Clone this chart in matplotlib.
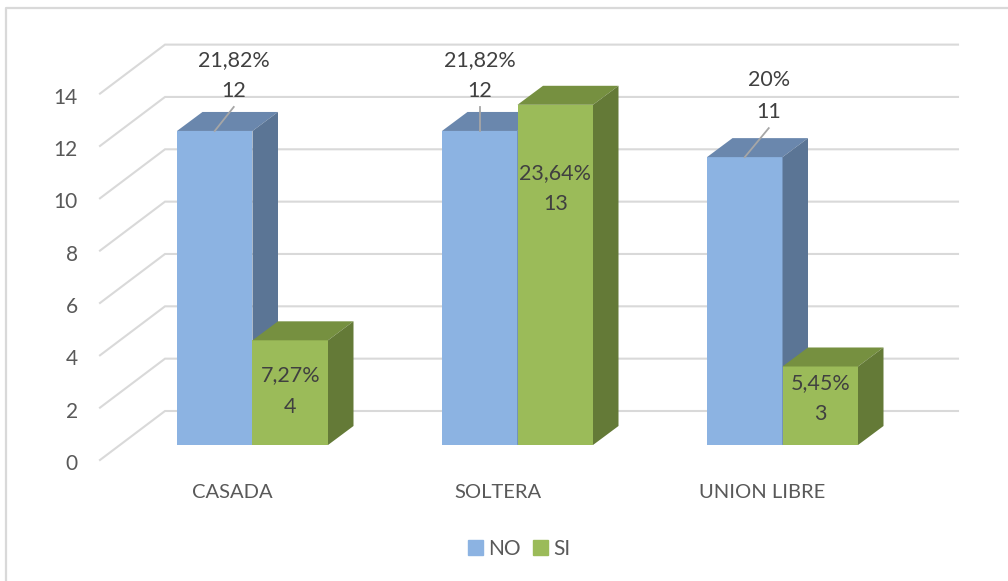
import matplotlib.pyplot as plt
from matplotlib.lines import Line2D
from matplotlib.patches import Patch, Polygon
from matplotlib.transforms import Affine2D

plt.rcParams['font.family'] = ['Lato', 'DejaVu Sans']

categories = ['CASADA', 'SOLTERA', 'UNION LIBRE']
no_values = [12, 12, 11]
si_values = [4, 13, 3]
no_labels = ['21,82%', '21,82%', '20%']
si_labels = ['7,27%', '23,64%', '5,45%']
y_ticks = [0, 2, 4, 6, 8, 10, 12, 14]

W, H = 1008, 581
# pixels per data unit in the reference
PX_X = 265.0
PX_Y = 26.17
BAR_W = 75.5 / PX_X
DEPTH_X = 25.5 / PX_X
DEPTH_Y = 19 / PX_Y

fig = plt.figure(figsize=(W / 100, H / 100), dpi=100)
left, right = 100, 958
bottom, top = 445, 445 - 14 * PX_Y
ax = fig.add_axes([left / W, 1 - bottom / H, (right - left) / W, (bottom - top) / H])
ax.set_xlim((left - 252.5) / PX_X, (right - 252.5) / PX_X)
ax.set_ylim(0, 14)
for s in ax.spines.values():
    s.set_visible(False)
ax.patch.set_alpha(0)

# outer chart frame, only left and top are inside the picture
fig.add_artist(Line2D([5.5 / W, 5.5 / W, 1.0], [0, 1 - 8 / H, 1 - 8 / H],
                      transform=fig.transFigure, color='#D9D9D9', lw=1.6))

# floor diagonals and back wall grid
x_front = ax.get_xlim()[0]
x_wall = x_front + 65 / PX_X
x_end = ax.get_xlim()[1]
for v in y_ticks:
    ys = [v - 15 / PX_Y, v + 34 / PX_Y, v + 34 / PX_Y]
    ax.plot([x_front, x_wall, x_end], ys, color='#D9D9D9', lw=1.5, clip_on=False, zorder=1,
            solid_joinstyle='miter')


def box(x0, value, front, top_c, side_c):
    ax.bar(x0, value, BAR_W, align='edge', color=front, zorder=3, clip_on=False)
    x1 = x0 + BAR_W
    ax.add_patch(Polygon([(x0, value), (x1, value), (x1 + DEPTH_X, value + DEPTH_Y), (x0 + DEPTH_X, value + DEPTH_Y)],
                         facecolor=top_c, edgecolor='none', zorder=3, clip_on=False))
    ax.add_patch(Polygon([(x1, 0), (x1 + DEPTH_X, DEPTH_Y), (x1 + DEPTH_X, value + DEPTH_Y), (x1, value)],
                         facecolor=side_c, edgecolor='none', zorder=3, clip_on=False))


for i in range(len(categories)):
    box(i - BAR_W, no_values[i], '#8CB3E2', '#6A87AD', '#5B7595')
for i in range(len(categories)):
    box(i, si_values[i], '#9BBB59', '#769040', '#647A37')

# data labels
no_dx = [19, 0, 24]
no_dy = [55.5, 55.5, 61]
no_line = [24, 24, 29]
si_y = [2.05, 9.8, 1.77]
for i in range(len(categories)):
    cx = i - BAR_W / 2
    ax.plot([cx, cx + no_dx[i] / PX_X], [no_values[i], no_values[i] + no_line[i] / PX_Y],
            color='#A6A6A6', lw=1.3, zorder=4, clip_on=False)
    ax.text(cx + no_dx[i] / PX_X, no_values[i] + no_dy[i] / PX_Y, f'{no_labels[i]}\n{no_values[i]}',
            ha='center', va='center', fontsize=15.5, color='#404040', linespacing=1.72, zorder=5)
    ax.text(i + BAR_W / 2, si_y[i], f'{si_labels[i]}\n{si_values[i]}',
            ha='center', va='center', fontsize=15.5, color='#404040', linespacing=1.72, zorder=5)

# axes
ax.set_yticks(y_ticks)
ax.set_xticks(range(len(categories)), categories)
ax.tick_params(length=0)
ax.tick_params(axis='y', labelsize=15, labelcolor='#595959', pad=16)
ax.tick_params(axis='x', labelsize=14.5, labelcolor='#595959', pad=28)
fig.canvas.draw()
for lab in ax.get_xticklabels():
    lab.set_transform(lab.get_transform() + Affine2D().translate(-20, 0))
for lab in ax.get_yticklabels():
    lab.set_transform(lab.get_transform() + Affine2D().translate(0, -17))

handles = [Patch(color='#8CB3E2', label='NO'), Patch(color='#9BBB59', label='SI')]
fig.legend(handles=handles, loc='center', bbox_to_anchor=(519 / W, 1 - 549 / H), ncol=2, frameon=False,
           fontsize=15, labelcolor='#595959', handlelength=0.72, handleheight=0.72,
           handletextpad=0.25, columnspacing=0.6)

fig.savefig('out.png', dpi=100)
